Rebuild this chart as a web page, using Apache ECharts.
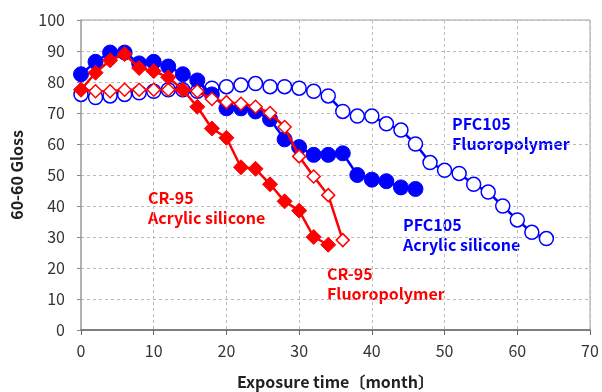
<!DOCTYPE html>
<html><head><meta charset="utf-8">
<script src="https://cdn.jsdelivr.net/npm/echarts@6/dist/echarts.min.js"></script>
<style>html,body{margin:0;padding:0;background:#fff}#c{width:602px;height:392px}</style>
</head><body><div id="c"></div>
<script>
const xTicks = [0,10,20,30,40,50,60,70];
const yTicks = [0,10,20,30,40,50,60,70,80,90,100];
const pfcAcrylicX = [0,2,4,6,8,10,12,14,16,18,20,22,24,26,28,30,32,34,36,38,40,42,44,46];
const pfcAcrylicY = [82.5,86.5,89.5,89.5,86,86.5,85,82.5,80.5,76,71.5,71.5,70.5,68,61.5,59,56.5,56.5,57,50,48.5,48,46,45.5];
const pfcFluoroX = [0,2,4,6,8,10,12,14,16,18,20,22,24,26,28,30,32,34,36,38,40,42,44,46,48,50,52,54,56,58,60,62,64];
const pfcFluoroY = [76,75,75.5,76,76.5,77,77.5,77.5,77,78,78.5,79,79.5,78.5,78.5,78,77,75.5,70.5,69,69,66.5,64.5,60,54,51.5,50.5,47,44.5,40,35.5,31.5,29.5];
const crAcrylicX = [0,2,4,6,8,10,12,14,16,18,20,22,24,26,28,30,32,34];
const crAcrylicY = [77.5,83,87,89,84.5,83.5,81.5,77.5,72,65,62,52.5,52,47,41.5,38.5,30,27.5];
const crFluoroX = [0,2,4,6,8,10,12,14,16,18,20,22,24,26,28,30,32,34,36];
const crFluoroY = [77.5,77,77,77.5,77.5,77.5,77.5,77.5,77,74.5,73.5,73,72,70,65.5,56,49.5,43.5,29];
const names = ['PFC105 Acrylic silicone','PFC105 Fluoropolymer','CR-95 Acrylic silicone','CR-95 Fluoropolymer'];
const zip = (a,b)=>a.map((v,i)=>[v,b[i]]);
const BLUE='#0000ff', RED='#ff0000';
const FONT='"Noto Sans CJK KR","Noto Sans",sans-serif';
const chart = echarts.init(document.getElementById('c'));
const labelStyle = (c)=>({fill:c,font:'bold 16px '+FONT,lineHeight:20});
chart.setOption({
  animation:false,
  grid:{left:81,right:12,top:20,bottom:62,show:true,borderColor:'#a0a0a0',borderWidth:1,outerBoundsMode:'none',containLabel:false},
  xAxis:{type:'value',min:0,max:70,interval:10,
    name:'Exposure time〔month〕',nameLocation:'middle',nameGap:44,
    nameTextStyle:{fontFamily:FONT,fontSize:16,fontWeight:'bold',color:'#222'},
    axisLine:{show:true,lineStyle:{color:'#666',width:1.5}},
    axisTick:{show:true,length:5,lineStyle:{color:'#666'}},
    axisLabel:{fontFamily:FONT,fontSize:16,color:'#333',margin:13,formatter:v=>xTicks.includes(v)?String(v):''},
    splitLine:{show:true,lineStyle:{type:[3,3],color:'#bbb'}}},
  yAxis:{type:'value',min:0,max:100,interval:10,
    name:'60-60 Gloss',nameLocation:'middle',nameGap:56,
    nameTextStyle:{fontFamily:FONT,fontSize:16,fontWeight:'bold',color:'#222'},
    axisLine:{show:true,lineStyle:{color:'#aaa',width:1.5}},
    axisTick:{show:true,length:4,lineStyle:{color:'#888'}},
    axisLabel:{fontFamily:FONT,fontSize:16,color:'#333',margin:16,formatter:v=>yTicks.includes(v)?String(v):''},
    splitLine:{show:true,lineStyle:{type:[3,3],color:'#bbb'}}},
  graphic:[
    {type:'text',left:452,top:114,style:Object.assign({text:'PFC105\nFluoropolymer'},labelStyle(BLUE))},
    {type:'text',left:403,top:215,style:Object.assign({text:'PFC105\nAcrylic silicone'},labelStyle(BLUE))},
    {type:'text',left:148,top:188,style:Object.assign({text:'CR-95\nAcrylic silicone'},labelStyle(RED))},
    {type:'text',left:327,top:264,style:Object.assign({text:'CR-95\nFluoropolymer'},labelStyle(RED))}
  ],
  series:[
    {name:names[1],type:'line',data:zip(pfcFluoroX,pfcFluoroY),symbol:'circle',symbolSize:14,
      lineStyle:{color:BLUE,width:2.5},itemStyle:{color:'#fff',borderColor:BLUE,borderWidth:1.5},z:2},
    {name:names[0],type:'line',data:zip(pfcAcrylicX,pfcAcrylicY),symbol:'circle',symbolSize:15,
      lineStyle:{color:BLUE,width:2.5},itemStyle:{color:BLUE,borderColor:BLUE},z:3},
    {name:names[3],type:'line',data:zip(crFluoroX,crFluoroY),symbol:'diamond',symbolSize:13,
      lineStyle:{color:RED,width:2.5},itemStyle:{color:'#fff',borderColor:RED,borderWidth:1.5},z:4},
    {name:names[2],type:'line',data:zip(crAcrylicX,crAcrylicY),symbol:'diamond',symbolSize:15,
      lineStyle:{color:RED,width:2.5},itemStyle:{color:RED,borderColor:RED},z:5}
  ]
});
</script></body></html>
